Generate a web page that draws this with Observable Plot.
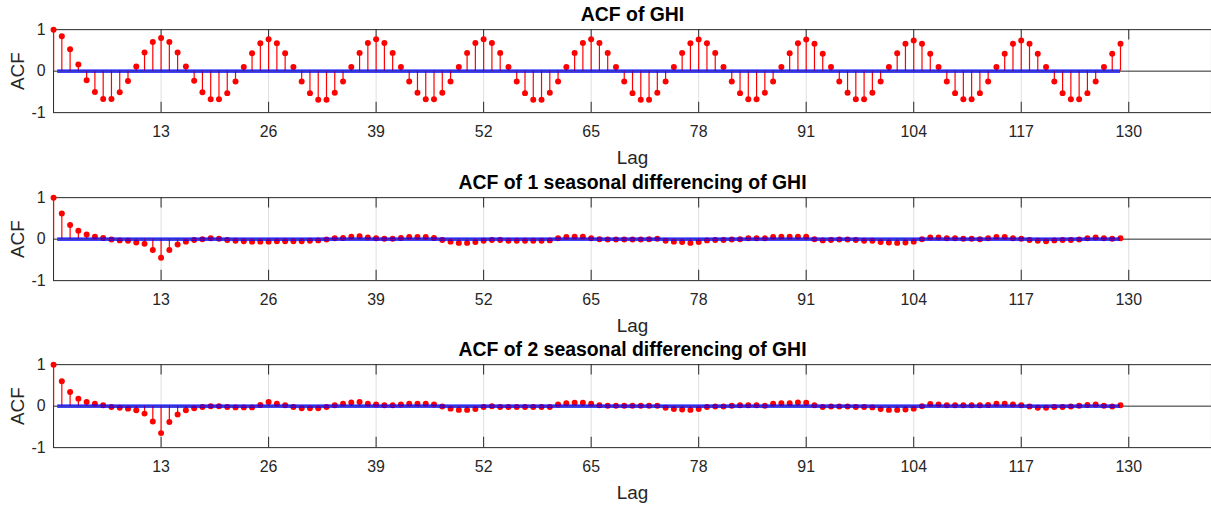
<!DOCTYPE html>
<html>
<head>
<meta charset="utf-8">
<script src="https://cdn.jsdelivr.net/npm/d3@7"></script>
<script src="https://cdn.jsdelivr.net/npm/@observablehq/plot@0.6"></script>
<style>
  html, body { margin: 0; padding: 0; background: #fff; width: 1211px; height: 505px; overflow: hidden; }
  #chart svg { display: block; }
</style>
</head>
<body>
<div id="chart"></div>
<script>
// ---- data ----
const titles = [
  "ACF of GHI",
  "ACF of 1 seasonal differencing of GHI",
  "ACF of 2 seasonal differencing of GHI"
];
const xTicks = [13, 26, 39, 52, 65, 78, 91, 104, 117, 130];
const yTicks = [-1, 0, 1];
const xLabel = "Lag";
const yLabel = "ACF";

const acfGHI = [
  1.00, 0.84, 0.53, 0.16, -0.22, -0.50, -0.67, -0.67, -0.51, -0.24, 0.11, 0.45, 0.70,
  0.80, 0.70, 0.45, 0.11, -0.23, -0.51, -0.68, -0.68, -0.53, -0.25, 0.10, 0.43, 0.67,
  0.77, 0.67, 0.43, 0.10, -0.25, -0.53, -0.69, -0.69, -0.52, -0.25, 0.10, 0.44, 0.68,
  0.77, 0.68, 0.44, 0.10, -0.25, -0.52, -0.68, -0.68, -0.52, -0.25, 0.10, 0.44, 0.68,
  0.77, 0.68, 0.44, 0.10, -0.25, -0.53, -0.69, -0.69, -0.52, -0.25, 0.10, 0.44, 0.68,
  0.77, 0.68, 0.44, 0.10, -0.25, -0.53, -0.69, -0.69, -0.52, -0.25, 0.10, 0.44, 0.67,
  0.76, 0.67, 0.44, 0.10, -0.25, -0.53, -0.68, -0.68, -0.52, -0.25, 0.10, 0.43, 0.67,
  0.76, 0.66, 0.42, 0.10, -0.25, -0.52, -0.68, -0.68, -0.52, -0.25, 0.10, 0.43, 0.66,
  0.74, 0.66, 0.42, 0.10, -0.25, -0.53, -0.68, -0.68, -0.53, -0.25, 0.10, 0.42, 0.66,
  0.74, 0.66, 0.42, 0.10, -0.25, -0.53, -0.68, -0.68, -0.53, -0.25, 0.10, 0.42, 0.66
];

const acfDiff1 = [
  1.00, 0.62, 0.34, 0.20, 0.11, 0.06, 0.03, -0.01, -0.03, -0.04, -0.08, -0.11, -0.26,
  -0.45, -0.26, -0.13, -0.06, -0.02, 0.00, 0.02, 0.01, -0.02, -0.04, -0.05, -0.06, -0.06,
  -0.06, -0.05, -0.05, -0.05, -0.05, -0.04, -0.03, -0.01, 0.02, 0.03, 0.06, 0.07, 0.04,
  0.02, 0.01, 0.01, 0.03, 0.05, 0.05, 0.05, 0.03, -0.02, -0.06, -0.09, -0.09, -0.07,
  -0.04, -0.02, -0.02, -0.04, -0.04, -0.04, -0.04, -0.04, -0.03, 0.02, 0.05, 0.06, 0.06,
  0.02, 0.00, -0.01, -0.01, -0.01, -0.01, -0.01, 0.00, 0.01, -0.04, -0.06, -0.07, -0.09,
  -0.07, -0.03, -0.02, -0.02, -0.01, 0.00, 0.02, 0.02, 0.02, 0.05, 0.06, 0.06, 0.06,
  0.06, 0.00, -0.03, -0.02, -0.01, -0.01, -0.02, -0.04, -0.04, -0.07, -0.08, -0.09, -0.08,
  -0.06, 0.00, 0.04, 0.04, 0.02, 0.02, 0.01, 0.01, 0.00, 0.02, 0.05, 0.05, 0.02,
  0.01, -0.02, -0.04, -0.05, -0.03, -0.02, -0.02, -0.01, 0.02, 0.04, 0.02, 0.01, 0.02
];

const acfDiff2 = [
  1.00, 0.60, 0.34, 0.18, 0.10, 0.06, 0.02, -0.02, -0.04, -0.06, -0.10, -0.18, -0.37,
  -0.65, -0.38, -0.20, -0.10, -0.05, -0.02, 0.00, 0.00, -0.02, -0.03, -0.03, -0.03, 0.03,
  0.10, 0.06, 0.02, -0.02, -0.05, -0.05, -0.05, -0.02, 0.02, 0.06, 0.09, 0.10, 0.06,
  0.04, 0.02, 0.02, 0.04, 0.06, 0.06, 0.06, 0.04, -0.01, -0.06, -0.09, -0.09, -0.07,
  -0.02, 0.00, -0.02, -0.02, -0.02, -0.02, -0.02, -0.02, -0.02, 0.04, 0.07, 0.08, 0.08,
  0.06, 0.02, 0.01, 0.01, 0.01, 0.01, 0.01, 0.01, 0.01, -0.04, -0.07, -0.08, -0.09,
  -0.07, -0.02, -0.01, -0.01, 0.01, 0.02, 0.02, 0.02, 0.01, 0.06, 0.07, 0.07, 0.09,
  0.08, 0.02, -0.02, -0.01, -0.01, -0.01, -0.02, -0.02, -0.03, -0.07, -0.09, -0.09, -0.08,
  -0.06, 0.00, 0.05, 0.04, 0.02, 0.02, 0.02, 0.02, 0.02, 0.03, 0.06, 0.06, 0.04,
  0.02, -0.01, -0.04, -0.04, -0.02, -0.02, -0.01, 0.01, 0.03, 0.04, 0.01, -0.01, 0.02
];

const series = [acfGHI, acfDiff1, acfDiff2];
const confBounds = [-0.025, 0.025];   // approx. 95% confidence bounds
const boundLagStart = 0.5;
const boundLagEnd = 129;

// ---- drawing ----
const FONT = "'Liberation Sans', Arial, Helvetica, sans-serif";
const AX = "#262626";
const container = document.getElementById("chart");

series.forEach((vals, i) => {
  const data = vals.map((v, k) => ({lag: k, acf: v}));
  const svg = Plot.plot({
    width: 1217,
    height: 168.4,
    marginLeft: 53.3,
    marginRight: 0,
    marginTop: 29.3,
    marginBottom: 55.7,
    style: {fontFamily: FONT, color: AX, background: "#fff", overflow: "visible"},
    x: {domain: [0, 140]},
    y: {domain: [-1, 1]},
    marks: [
      Plot.gridX(xTicks, {stroke: "#000", strokeOpacity: 0.13, strokeWidth: 1}),
      Plot.frame({stroke: AX, strokeWidth: 1}),
      Plot.ruleX(xTicks, {y1: -1, y2: -0.75, stroke: AX, strokeWidth: 1}),
      Plot.ruleX(xTicks, {y1: 1, y2: 0.75, stroke: AX, strokeWidth: 1}),
      Plot.axisX({ticks: xTicks, tickSize: 0, tickPadding: 13, fontSize: 16, label: null, tickFormat: d => String(d)}),
      Plot.axisY({ticks: yTicks, tickSize: 0, tickPadding: 8, fontSize: 16, label: null, tickFormat: d => String(d)}),
      Plot.ruleY([0], {stroke: AX, strokeWidth: 1}),
      Plot.ruleX(data, {x: "lag", y1: 0, y2: "acf", stroke: "#ff0000", strokeWidth: 1.2}),
      Plot.dot(data, {x: "lag", y: "acf", r: 3, fill: "#ff0000", stroke: null}),
      Plot.ruleY(confBounds, {x1: boundLagStart, x2: boundLagEnd, stroke: "#0000ff", strokeWidth: 1.3}),
      Plot.text([titles[i]], {frameAnchor: "top", lineAnchor: "middle", textAnchor: "middle", dy: -14.8, fontSize: 19.5, fontWeight: "bold", fill: "#000"}),
      Plot.text([xLabel], {frameAnchor: "bottom", lineAnchor: "middle", textAnchor: "middle", dy: 46, fontSize: 19, fill: AX}),
      Plot.text([yLabel], {frameAnchor: "left", lineAnchor: "middle", textAnchor: "middle", dx: -36, rotate: -90, fontSize: 19, fill: AX})
    ]
  });
  container.appendChild(svg);
});
</script>
</body>
</html>
